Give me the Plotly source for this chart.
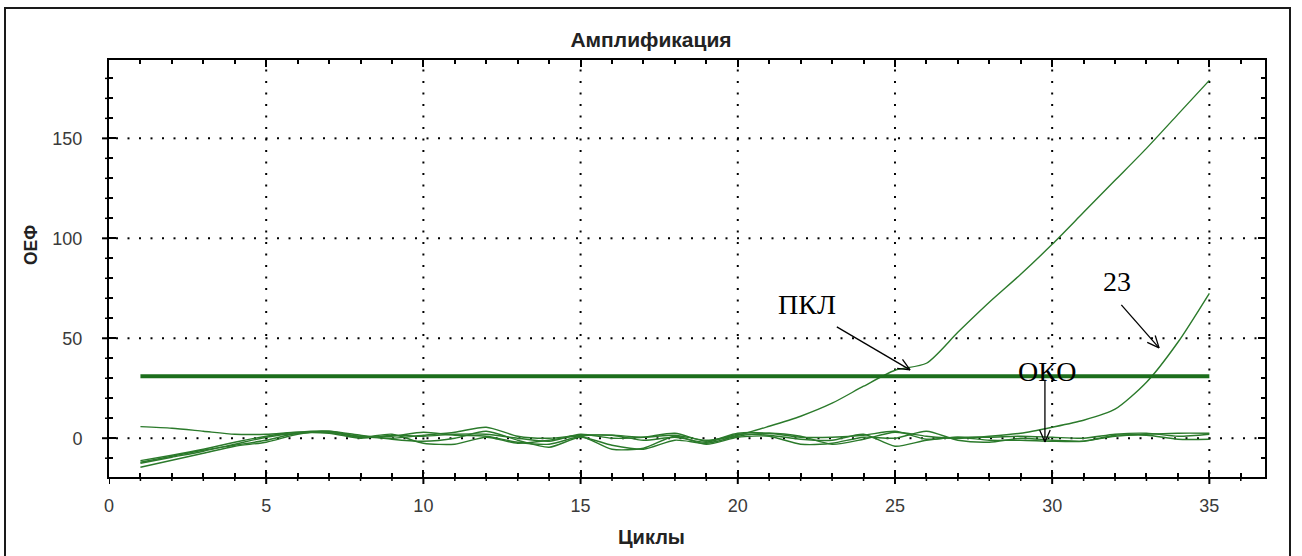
import math
import numpy as np
import plotly.graph_objects as go

# ---- data -------------------------------------------------------------
cycles = list(range(1, 36))

pkl = [-12.5, -9.5, -6.5, -3, 0.5, 2.5, 3, 1, 0, 1.5, 3, 5.5, 1, 0, 1.5, 1.5, 0.5, 1.5, -1, 1.5,
       6, 11, 17.5, 26, 34, 37.5, 53, 68, 82, 97, 113, 129, 145, 162, 179]
sample_23 = [-11.2, -8.5, -5.5, -2, 1, 3, 3.5, 1.5, -0.5, -1.5, 0, 3.5, -1, -4.5, 0.5, -3.5, -5.5, -1, -2.5, 1,
             2.5, 1, -3, -0.5, 3, 1, 0, 1, 2.5, 5.5, 9, 14.5, 28, 48, 72.5]
oko = [5.8, 5, 3.5, 2, 2, 3, 3, 0.5, 1, 3, 1.5, 1, -2, -3, 1, 1.5, -1, 0.5, -2, 2,
       1.5, -0.5, -1, 2, -4, -1, 0.5, -1, -1, -1.5, -1.5, 1, 1.5, -0.5, -0.5]
sample_a = [-14.5, -11, -7.5, -4, -2, 2, 3.5, 0.5, 2, -2.5, -3, 0.5, -2.5, -1, 1, -5.5, -5, 1, -3, 0.5,
            1, -3, -2.5, 0.5, 0, 3.5, -1, -2, 0, -1, -1.5, 1.5, 2, 2.5, 2.5]
sample_b = [-12, -9, -6, -3.5, -1, 2.5, 2.5, 0, 1.5, 1, 2, 2, 0, -1.5, 2, 0, 0.5, 2.5, -1.5, 2.5,
            2.5, 0.5, 0.5, 1.5, 3.5, -0.5, 0.5, 0.5, 1, 0.5, 0, 2, 2.5, 1, 2]

threshold_x = [1, 35]
threshold_y = [31, 31]

x_range = [0, 36.77]
y_range = [-19.4, 189.2]
x_major = list(range(0, 36, 5))
x_minor = list(range(0, 37))
y_major = list(range(0, 151, 50))
y_minor = list(range(-10, 181, 10))

# labelled arrows: text, text position, arrow tail, arrow head (data units)
callouts = [
    ("ПКЛ", (22.2, 66.7), (23.15, 55.7), (25.48, 34.2)),
    ("23", (32.06, 78.2), (32.2, 66.7), (33.4, 45.2)),
    ("ОКО", (29.85, 33.2), (29.77, 29.2), (29.77, -1.85)),
]

# ---- geometry ---------------------------------------------------------
W, H = 1302, 556
L, R, T, B = 109, 1265, 60, 477
sx_unit = (R - L) / (x_range[1] - x_range[0])   # px per cycle
sy_unit = (B - T) / (y_range[1] - y_range[0])   # px per unit

def to_px(x, y):
    return L + (x - x_range[0]) * sx_unit, B - (y - y_range[0]) * sy_unit

def to_data(px, py):
    return x_range[0] + (px - L) / sx_unit, y_range[0] + (B - py) / sy_unit

def paper(px, py):
    return (px - L) / (R - L), (B - py) / (B - T)

def seg(x0, y0, x1, y1, width, color="black"):
    return dict(type="line", xref="x", yref="y", x0=x0, y0=y0, x1=x1, y1=y1,
                line=dict(color=color, width=width))

curve_color = "#2b7a2b"

fig = go.Figure()

# sparse dotted grid (one dot every ~11 px) along the major ticks
dot_px = 11.5
gx, gy = [], []
for v in x_major[1:]:
    ys = np.arange(y_range[0] + 4 / sy_unit, y_range[1], dot_px / sy_unit)
    gx += [v] * len(ys)
    gy += list(ys)
for v in y_major:
    xs = np.arange(x_range[0] + 8 / sx_unit, x_range[1], dot_px / sx_unit)
    gx += list(xs)
    gy += [v] * len(xs)
fig.add_trace(go.Scatter(x=gx, y=gy, mode="markers", hoverinfo="skip", showlegend=False,
                         marker=dict(symbol="square", size=2, color="black", line=dict(width=0))))

for name, ys in [("ОКО", oko), ("A", sample_a), ("B", sample_b), ("23", sample_23), ("ПКЛ", pkl)]:
    fig.add_trace(go.Scatter(x=cycles, y=ys, mode="lines", name=name,
                             line=dict(color=curve_color, width=1.4, shape="spline", smoothing=0.7),
                             showlegend=False))

fig.add_trace(go.Scatter(x=threshold_x, y=threshold_y, mode="lines", showlegend=False,
                         line=dict(color="#1c6e1c", width=4)))

shapes = []
annotations = []
for text, (tx, ty), tail, head in callouts:
    shapes.append(seg(tail[0], tail[1], head[0], head[1], 1.3))
    hx, hy = to_px(*head)
    px_, py_ = to_px(*tail)
    ang = math.atan2(py_ - hy, px_ - hx)
    for d in (0.42, -0.42):
        wx, wy = to_data(hx + 13 * math.cos(ang + d), hy + 13 * math.sin(ang + d))
        shapes.append(seg(head[0], head[1], wx, wy, 1.3))
    annotations.append(dict(x=tx, y=ty, xref="x", yref="y", text=text, showarrow=False,
                            font=dict(family="Liberation Serif", size=28, color="black"),
                            xanchor="center", yanchor="middle"))

# outward halves of the tick marks on the bottom and left axes
for v in x_minor:
    major = v in x_major
    shapes.append(dict(type="line", xref="x", yref="paper", x0=v, x1=v, y0=0,
                       y1=-(7 if major else 4) / (B - T),
                       line=dict(color="black", width=2 if major else 1.5)))
for v in y_minor:
    major = v in y_major
    shapes.append(dict(type="line", xref="paper", yref="y", y0=v, y1=v, x0=0,
                       x1=-(7 if major else 4) / (R - L),
                       line=dict(color="black", width=2 if major else 1.5)))

# outer frame
fx0, fy0 = paper(5, 562)
fx1, fy1 = paper(1290, 8)
shapes.append(dict(type="rect", xref="paper", yref="paper", x0=fx0, y0=fy0, x1=fx1, y1=fy1,
                   line=dict(color="#1a1a1a", width=2)))

title_font = dict(family="Liberation Sans", size=21, color="#222")

# axis titles
ax_t = paper(651, 537)
annotations.append(dict(x=ax_t[0], y=ax_t[1], xref="paper", yref="paper", text="<b>Циклы</b>",
                        showarrow=False, font=dict(family="Liberation Sans", size=20, color="#222"),
                        xanchor="center", yanchor="middle"))
ay_t = paper(31, 245)
annotations.append(dict(x=ay_t[0], y=ay_t[1], xref="paper", yref="paper", text="<b>ОЕФ</b>",
                        showarrow=False, textangle=-90,
                        font=dict(family="Liberation Sans", size=17.5, color="#222"),
                        xanchor="center", yanchor="middle"))

tick_font = dict(family="Liberation Sans", size=18, color="#3a3a3a")
common = dict(showline=True, linecolor="black", linewidth=2, mirror="allticks",
              ticks="inside", ticklen=7, tickwidth=2, tickcolor="black",
              showgrid=False, zeroline=False, tickfont=tick_font)

fig.update_layout(
    width=W, height=H,
    margin=dict(l=L, r=W - R, t=T, b=H - B),
    paper_bgcolor="white", plot_bgcolor="white",
    title=dict(text="<b>Амплификация</b>", x=0.5, xref="container", xanchor="center",
               y=1 - 40 / H, yref="container", yanchor="middle", font=title_font),
    xaxis=dict(range=x_range, tickmode="array", tickvals=x_major, ticklabelstandoff=11,
               minor=dict(tickmode="array", tickvals=x_minor, ticks="inside", ticklen=4,
                          tickwidth=1.5, tickcolor="black", showgrid=False),
               **common),
    yaxis=dict(range=y_range, tickmode="array", tickvals=y_major, ticklabelstandoff=21,
               minor=dict(tickmode="array", tickvals=y_minor, ticks="inside", ticklen=4,
                          tickwidth=1.5, tickcolor="black", showgrid=False),
               **common),
    shapes=shapes,
    annotations=annotations,
)

fig.write_html("out.html")
